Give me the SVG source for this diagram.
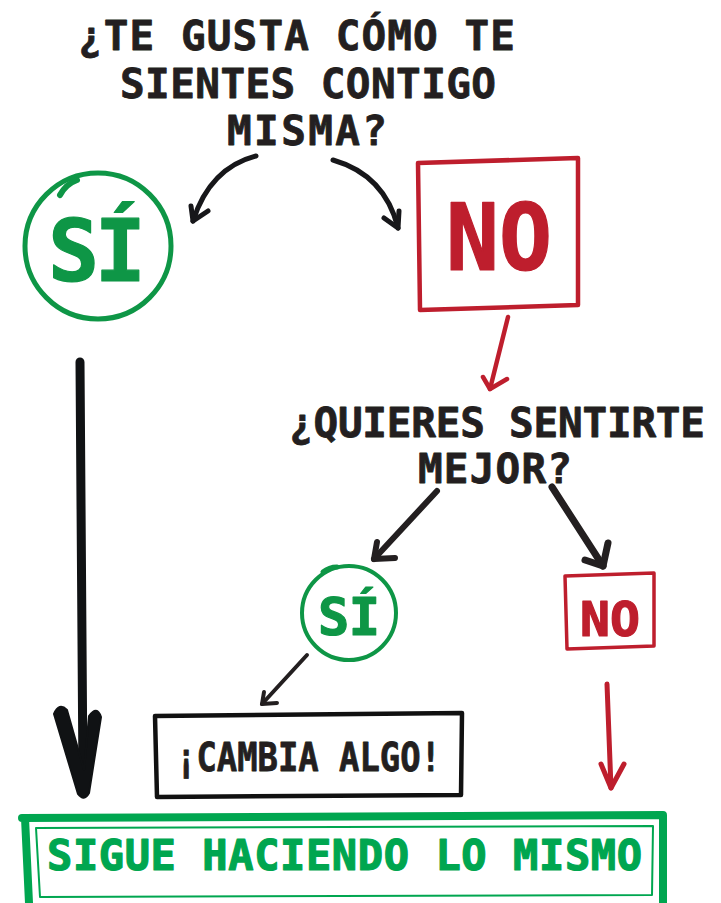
<svg xmlns="http://www.w3.org/2000/svg" width="721" height="903" viewBox="0 0 721 903">
<defs>
<style>
.t{font-family:"DejaVu Sans Mono","Liberation Mono",monospace;font-weight:bold;stroke-linejoin:round;}
.k{fill:#231f20;stroke:#231f20;stroke-width:0.8;}
.g{fill:#0e9646;stroke:#0e9646;stroke-width:1.2;}
.r{fill:#be1e2d;stroke:#be1e2d;stroke-width:1.2;}
.ln{fill:none;stroke-linecap:round;stroke-linejoin:round;}
</style>
</defs>
<rect width="721" height="903" fill="#ffffff"/>
<g id="q1">
<text class="t k" x="78" y="50" font-size="41" textLength="437" lengthAdjust="spacing">¿TE GUSTA CÓMO TE</text>
<text class="t k" x="120" y="98" font-size="41" textLength="376" lengthAdjust="spacing">SIENTES CONTIGO</text>
<text class="t k" x="227" y="145" font-size="41" textLength="160" lengthAdjust="spacing">MISMA?</text>
</g>
<g id="si1">
<circle cx="98" cy="246" r="73" fill="none" stroke="#0e9646" stroke-width="5"/>
<path class="ln" d="M60 195 Q66 184 77 180" stroke="#0e9646" stroke-width="6"/>
<text class="t g" x="48" y="281" font-size="85" textLength="98" lengthAdjust="spacing">SÍ</text>
</g>
<g id="no1">
<path class="ln" d="M418 163 L578 158 L578 305 L420 310 Z" stroke="#be1e2d" stroke-width="4.5"/>
<text class="t r" x="446" y="270" font-size="92" textLength="106" lengthAdjust="spacingAndGlyphs">NO</text>
</g>
<g id="q2">
<text class="t k" x="289" y="437" font-size="41" textLength="416" lengthAdjust="spacing">¿QUIERES SENTIRTE</text>
<text class="t k" x="418" y="483" font-size="41" textLength="154" lengthAdjust="spacing">MEJOR?</text>
</g>
<g id="si2">
<circle cx="349" cy="613" r="47" fill="none" stroke="#0e9646" stroke-width="4"/>
<path class="ln" d="M323 572 Q329 567 337 567" stroke="#0e9646" stroke-width="5"/>
<text class="t g" x="318" y="635" font-size="52" textLength="62" lengthAdjust="spacing">SÍ</text>
</g>
<g id="no2">
<path class="ln" d="M565 576 L654 573 L654 646 L567 649 Z" stroke="#be1e2d" stroke-width="3.5"/>
<text class="t r" x="580" y="636" font-size="48" textLength="60" lengthAdjust="spacingAndGlyphs">NO</text>
</g>
<g id="cambia">
<path class="ln" d="M155 716 L462 713 L461 795 L157 797 Z" stroke="#111111" stroke-width="4.5"/>
<text class="t k" x="176" y="771" font-size="39" textLength="265" lengthAdjust="spacingAndGlyphs">¡CAMBIA ALGO!</text>
</g>
<g id="sigue">
<path class="ln" d="M22 818 L663 815 L663 903 M25 818 L29 903" stroke="#00a650" stroke-width="8"/>
<path class="ln" d="M36 828 L653 826 L652 895 L40 897 Z" stroke="#00a650" stroke-width="2"/>
<text class="t" fill="#00a650" stroke="#00a650" stroke-width="1.2" x="47" y="870" font-size="42" textLength="595" lengthAdjust="spacing">SIGUE HACIENDO LO MISMO</text>
</g>
<g id="connectors" class="ln">
<path d="M256 156 Q210 168 193 221" stroke="#17171a" stroke-width="5"/>
<path d="M193 221 L191 206 M193 221 L208 211" stroke="#17171a" stroke-width="5"/>
<path d="M333 160 Q385 175 398 228" stroke="#17171a" stroke-width="5"/>
<path d="M398 228 L384 218 M398 228 L399 211" stroke="#17171a" stroke-width="5"/>
<path d="M508 317 L490 389" stroke="#be1e2d" stroke-width="4.5"/>
<path d="M490 389 L483 377 M490 389 L507 379" stroke="#be1e2d" stroke-width="4.5"/>
<path d="M437 491 L374 559" stroke="#231f20" stroke-width="6"/>
<path d="M374 559 L377 542 M374 559 L395 558" stroke="#231f20" stroke-width="6"/>
<path d="M552 487 L603 566" stroke="#231f20" stroke-width="7"/>
<path d="M603 566 L585 560 M603 566 L608 543" stroke="#231f20" stroke-width="7"/>
<path d="M307 655 L262 704" stroke="#231f20" stroke-width="4"/>
<path d="M262 704 L264 692 M262 704 L277 703" stroke="#231f20" stroke-width="4"/>
<path d="M607 684 L611 788" stroke="#be1e2d" stroke-width="5"/>
<path d="M611 788 L601 764 M611 788 L624 764" stroke="#be1e2d" stroke-width="5"/>
<path d="M80 362 L83 780" stroke="#101214" stroke-width="9"/>
<path d="M54 714 Q59 702 67 710 L84 770 L89 716 Q97 705 101 717 L89 793 Q84 802 78 794 Z" fill="#101214" stroke="#101214" stroke-width="2"/>
</g>
</svg>
